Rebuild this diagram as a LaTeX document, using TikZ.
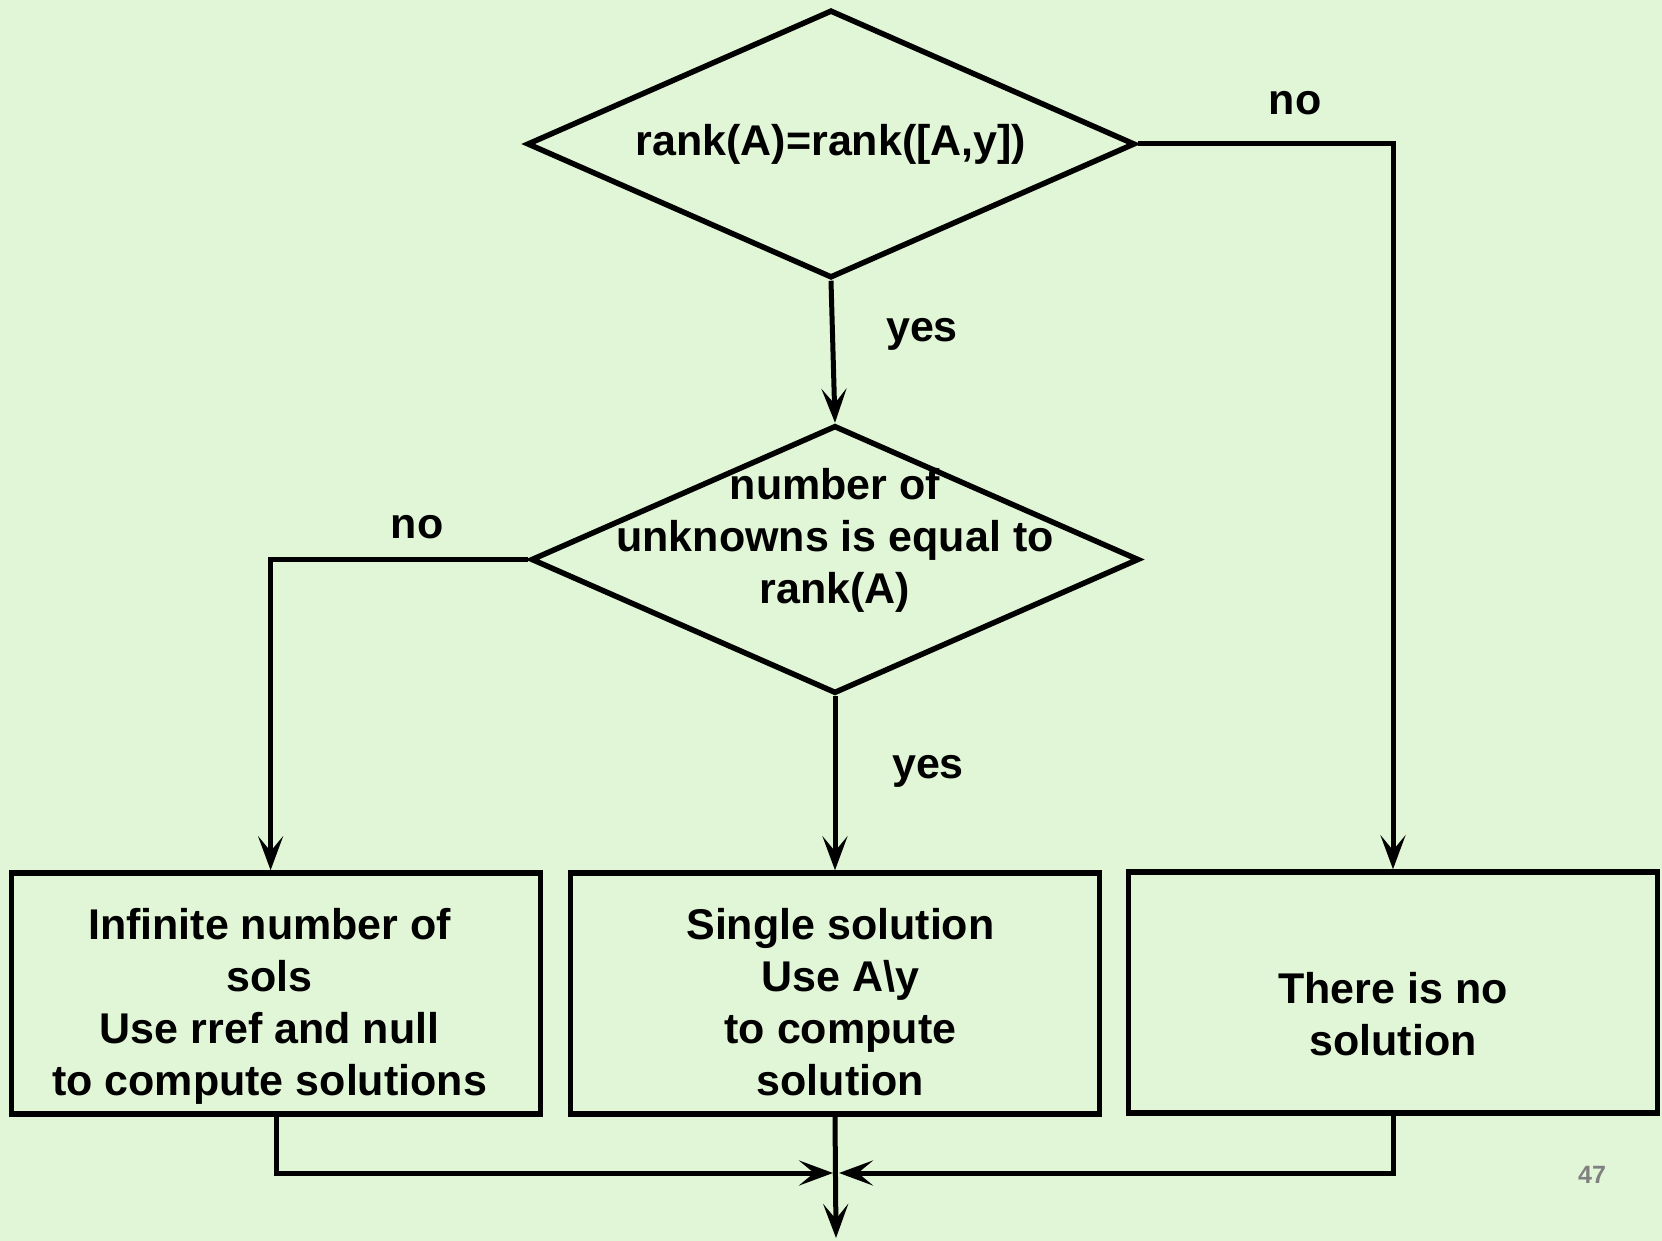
\documentclass[tikz,border=0pt]{standalone}
\usepackage{fontspec}
\setmainfont{Liberation Sans}
\usetikzlibrary{shapes.geometric,arrows.meta}

\definecolor{slidebg}{RGB}{225,246,214}
\definecolor{pagegrey}{RGB}{128,128,128}

\tikzset{
  edge/.style={line width=2.75pt},
  arr/.style={line width=2.5pt,-{Stealth[length=17pt,width=12.5pt,inset=7.5pt]}},
  bigtxt/.style={font=\bfseries\fontsize{21.5}{26}\selectfont},
  inside/.style={bigtxt,align=center},
  decide/.style={diamond,draw,edge,bigtxt,align=center,inner sep=0pt,aspect=4.5,
    minimum width=304pt,minimum height=134pt},
  outcome/.style={rectangle,draw,edge,inner sep=0pt,
    minimum width=264.5pt,minimum height=120.5pt},
  answer/.style={bigtxt,inner sep=0pt}
}

\begin{document}
\begin{tikzpicture}[x=0.5pt,y=0.5pt,yscale=-1,xscale=1]
% slide background
\fill[slidebg] (0,0) rectangle (1662,1241);
\useasboundingbox (0,0) rectangle (1662,1241);

% decisions
\node[decide] (rank) at (831,144) {rank(A)=rank([A,y])};
\node[decide,label={[inside,yshift=9.75pt]center:number of\\unknowns is equal to\\rank(A)}] (unk) at (835,559.5) {};

% outcomes
\node[outcome,label={[inside,xshift=-3.2pt,yshift=-6.4pt]center:Infinite number of\\sols\\Use rref and null\\to compute solutions}] (inf) at (276,993.5) {};
\node[outcome,label={[inside,xshift=2.7pt,yshift=-4.2pt]center:Single solution\\Use A\textbackslash y\\to compute\\solution}] (single) at (835,993.5) {};
\node[outcome,label={[inside,yshift=-10.6pt]center:There is no\\solution}] (nosol) at (1393,992.5) {};

% junction below the outcomes
\coordinate (join) at (836,1173);
\coordinate (done) at (836,1238);

% connectors
\draw[arr] (rank.south) -- (unk.north);
\draw[arr] (rank.east) -| (nosol.north);
\draw[arr] (unk.west) -| ([xshift=-2.7pt]inf.north);
\draw[arr] (unk.south) -- (single.north);
\draw[arr] (inf.south) |- ([xshift=-1.5pt]join);
\draw[arr] (nosol.south) |- ([xshift=1.5pt]join);
\draw[arr] (single.south) -- (done);

% answers
\node[answer] (noA) at (1295,103) {no};
\node[answer] (yesA) at (922,334) {yes};
\node[answer] (noB) at (417,527) {no};
\node[answer] (yesB) at (928,771) {yes};

% slide number
\node[font=\bfseries\fontsize{12.5}{14}\selectfont,text=pagegrey] (pnum) at (1592,1175) {47};
\end{tikzpicture}
\end{document}
